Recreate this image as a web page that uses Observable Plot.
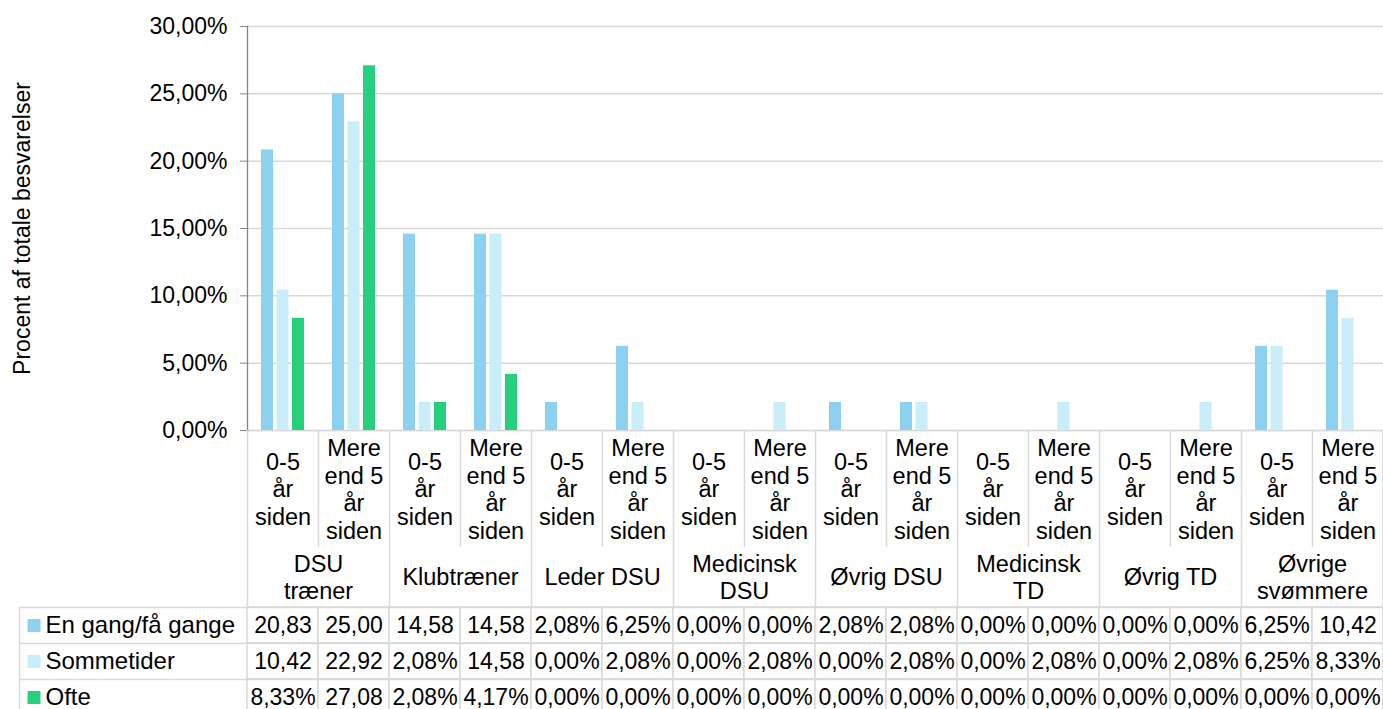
<!DOCTYPE html>
<html><head><meta charset="utf-8">
<script src="https://cdn.jsdelivr.net/npm/d3@7"></script>
<script src="https://cdn.jsdelivr.net/npm/@observablehq/plot@0.6"></script>
<style>
html,body{margin:0;padding:0;background:#fff;overflow:hidden;}
#chart svg,#table svg{display:block;}
</style></head><body><div id="chart"></div><div id="table"></div>
<script>
const groups = ["DSU træner","Klubtræner","Leder DSU","Medicinsk DSU","Øvrig DSU","Medicinsk TD","Øvrig TD","Øvrige svømmere"];
const groupLabels = ["DSU\ntræner","Klubtræner","Leder DSU","Medicinsk\nDSU","Øvrig DSU","Medicinsk\nTD","Øvrig TD","Øvrige\nsvømmere"];
const subs = ["0-5 år siden","Mere end 5 år siden"];
const subLabels = ["0-5\når\nsiden","Mere\nend 5\når\nsiden"];
const series = ["En gang/få gange","Sommetider","Ofte"];
const colors = ["#8dd1f0","#c9eef9","#26cf7c"];
const enGang     = [20.83,25.00,14.58,14.58,2.08,6.25,0,0,2.08,2.08,0,0,0,0,6.25,10.42];
const sommetider = [10.42,22.92,2.08,14.58,0,2.08,0,2.08,0,2.08,0,2.08,0,2.08,6.25,8.33];
const ofte       = [8.33,27.08,2.08,4.17,0,0,0,0,0,0,0,0,0,0,0,0];
const yTicks = [0,5,10,15,20,25,30];

const keys = groups.flatMap(g => subs.map(s => g + "|" + s));
const seriesValues = [enGang, sommetider, ofte];
const rows = [];
series.forEach((name, si) => keys.forEach((k, i) => rows.push({series: name, key: k, value: seriesValues[si][i]})));
const subLabelOf = new Map(keys.map((k, i) => [k, subLabels[i % subs.length]]));
const groupData = groups.map((g, gi) => ({key: keys[gi * subs.length], label: groupLabels[gi]}));
const num = v => v.toFixed(2).replace(".", ",");
const pct = v => num(v) + "%";
const cellText = v => v >= 10 ? num(v) : pct(v);

const font = "'Liberation Sans', Arial, Helvetica, sans-serif";
const offsets = [-15.5, 0, 15.5];
const gridC = "#d9d9d9";

const chart = Plot.plot({
  width: 1383, height: 606, marginLeft: 247, marginRight: 0, marginTop: 26, marginBottom: 176,
  style: {fontFamily: font, fontSize: "23px", color: "#000", background: "#fff", overflow: "visible"},
  x: {type: "band", domain: keys, padding: 0, axis: null},
  y: {domain: [0, 30], axis: null},
  marks: [
    Plot.gridY(yTicks, {stroke: gridC, strokeOpacity: 1, strokeWidth: 1.5}),
    Plot.ruleY([0], {stroke: gridC, strokeWidth: 1.5}),
    ...series.map((name, si) => Plot.barY(rows.filter(d => d.series === name && d.value > 0), {
      x: "key", y: "value", fill: colors[si], insetLeft: 29.5, insetRight: 29.5, dx: offsets[si]
    })),
    Plot.axisY(yTicks, {tickSize: 7, tickPadding: 13, stroke: "#868686", tickFormat: pct, fontSize: 23,
      label: "Procent af totale besvarelser", labelAnchor: "center", labelOffset: 234, labelArrow: "none"}),
    Plot.frame({anchor: "left", stroke: "#868686", strokeWidth: 1.3}),
    Plot.axisX({tickSize: 0, tickPadding: 58, lineAnchor: "middle", lineHeight: 1.174,
      tickFormat: k => subLabelOf.get(k), fontSize: 23.5, label: null}),
    Plot.ruleX(keys.filter((k, i) => i % 2 === 1), {dx: -35.5, insetTop: 404, insetBottom: -117, stroke: gridC, strokeWidth: 1.5}),
    Plot.ruleX(groupData.map(d => d.key), {dx: -35.5, insetTop: 404, insetBottom: -176, stroke: gridC, strokeWidth: 1.5}),
    Plot.ruleX([keys[keys.length - 1]], {dx: 35, insetTop: 404, insetBottom: -176, stroke: gridC, strokeWidth: 1.5}),
    Plot.text(groupData, {x: "key", text: "label", dx: 35.5, frameAnchor: "bottom", dy: 146,
      lineAnchor: "middle", lineHeight: 1.174, fontSize: 23.5})
  ]
});
document.getElementById("chart").appendChild(chart);

const table = Plot.plot({
  width: 1383, height: 110, marginLeft: 247, marginRight: 0, marginTop: 1, marginBottom: 1,
  style: {fontFamily: font, fontSize: "23px", color: "#000", background: "#fff", overflow: "visible"},
  x: {type: "band", domain: keys, padding: 0, axis: null},
  y: {type: "band", domain: series, padding: 0, axis: null},
  marks: [
    Plot.cell(rows, {x: "key", y: "series", fill: "#fff", stroke: gridC, strokeWidth: 1.5}),
    Plot.text(rows, {x: "key", y: "series", text: d => cellText(d.value), fontSize: 23}),
    Plot.ruleY(series, {dy: -18, insetLeft: -228, stroke: gridC, strokeWidth: 1.5}),
    Plot.ruleX([keys[0]], {dx: -35.5 - 228, stroke: gridC, strokeWidth: 1.5}),
    ...series.map((name, si) => Plot.dot([name], {y: d => d, fill: colors[si], symbol: "square", r: 7.3,
      frameAnchor: "left", dx: -213.5})),
    Plot.text(series, {y: d => d, text: d => d, frameAnchor: "left", dx: -202, textAnchor: "start", fontSize: 24})
  ]
});
document.getElementById("table").appendChild(table);
</script></body></html>
